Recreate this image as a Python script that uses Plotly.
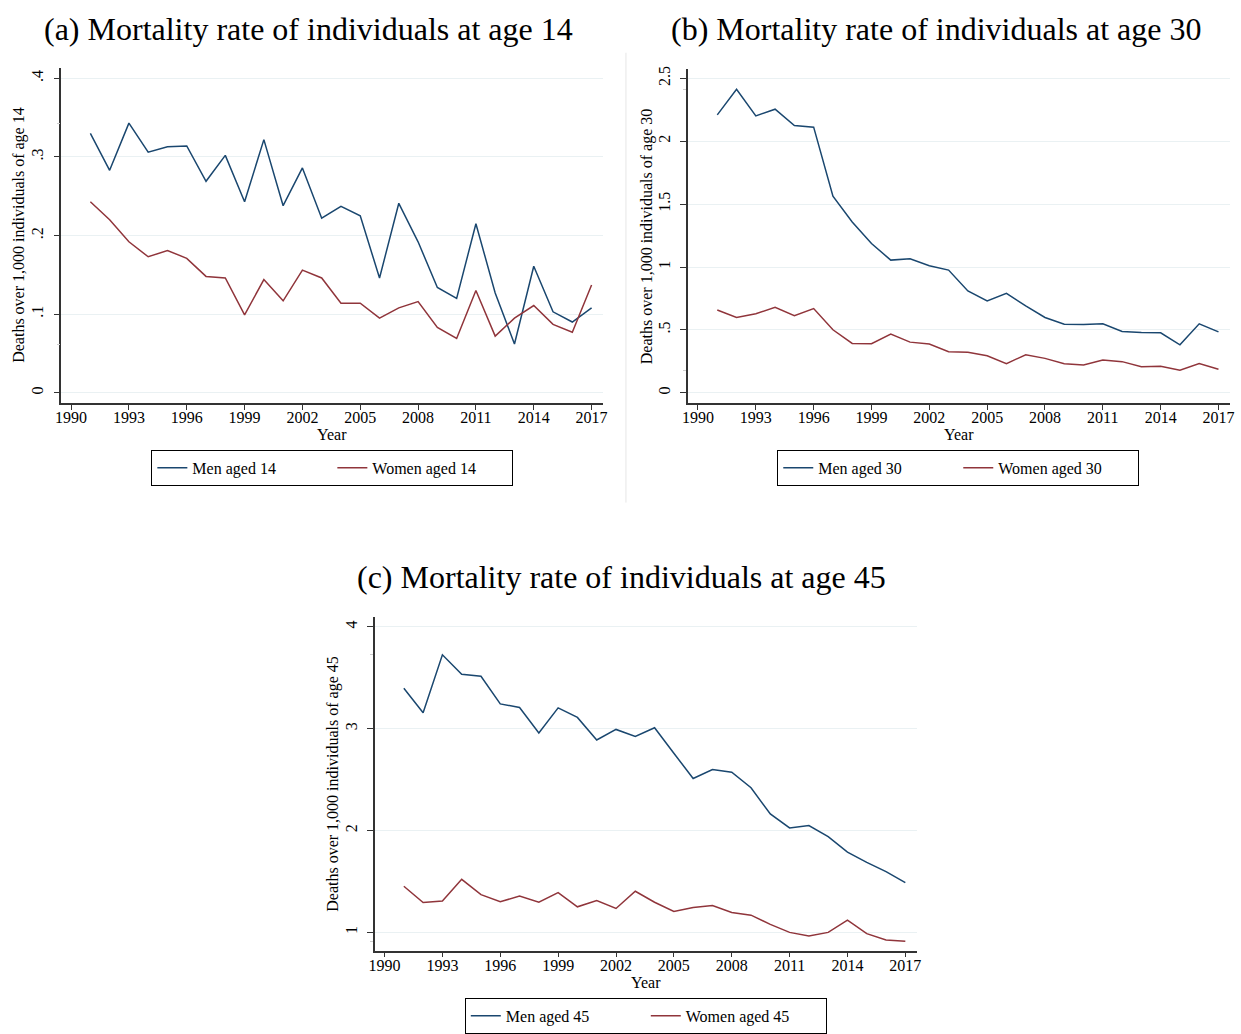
import plotly.graph_objects as go

years = list(range(1991, 2018))

men_14 = [0.330, 0.283, 0.343, 0.306, 0.313, 0.314, 0.269, 0.302, 0.243, 0.322,
          0.238, 0.286, 0.222, 0.237, 0.225, 0.146, 0.241, 0.192, 0.134, 0.120,
          0.215, 0.127, 0.062, 0.161, 0.103, 0.090, 0.108]
women_14 = [0.243, 0.220, 0.192, 0.173, 0.181, 0.171, 0.148, 0.146, 0.099, 0.144,
            0.117, 0.156, 0.146, 0.114, 0.114, 0.095, 0.108, 0.116, 0.083, 0.069,
            0.130, 0.072, 0.095, 0.111, 0.087, 0.077, 0.137]

men_30 = [2.210, 2.413, 2.202, 2.255, 2.125, 2.112, 1.564, 1.358, 1.187, 1.055,
          1.065, 1.010, 0.976, 0.810, 0.730, 0.791, 0.691, 0.599, 0.546, 0.543,
          0.549, 0.488, 0.480, 0.477, 0.382, 0.549, 0.485]
women_30 = [0.659, 0.599, 0.628, 0.680, 0.614, 0.670, 0.501, 0.393, 0.390, 0.467,
            0.403, 0.388, 0.327, 0.322, 0.295, 0.232, 0.303, 0.274, 0.232, 0.222,
            0.261, 0.248, 0.208, 0.211, 0.179, 0.232, 0.187]

men_45 = [3.397, 3.156, 3.726, 3.534, 3.515, 3.244, 3.208, 2.958, 3.205, 3.111,
          2.889, 2.993, 2.925, 3.010, 2.759, 2.511, 2.599, 2.573, 2.420, 2.163,
          2.026, 2.049, 1.941, 1.788, 1.687, 1.596, 1.489]
women_45 = [1.453, 1.293, 1.309, 1.521, 1.371, 1.300, 1.358, 1.296, 1.391, 1.251,
            1.313, 1.235, 1.404, 1.296, 1.205, 1.244, 1.264, 1.195, 1.169, 1.078,
            1.000, 0.964, 1.000, 1.121, 0.987, 0.925, 0.912]

x_ticks = list(range(1990, 2018, 3))
y14_ticks = [0, 0.1, 0.2, 0.3, 0.4]
y14_text = ["0", ".1", ".2", ".3", ".4"]
y30_ticks = [0, 0.5, 1, 1.5, 2, 2.5]
y30_text = ["0", ".5", "1", "1.5", "2", "2.5"]
y45_ticks = [1, 2, 3, 4]
y45_text = ["1", "2", "3", "4"]

panel_titles = ["(a) Mortality rate of individuals at age 14",
                "(b) Mortality rate of individuals at age 30",
                "(c) Mortality rate of individuals at age 45"]
y_titles = ["Deaths over 1,000 individuals of age 14",
            "Deaths over 1,000 individuals of age 30",
            "Deaths over 1,000 individuals of age 45"]

MEN = "#1a476f"
WOMEN = "#90353b"
FONT = "Liberation Serif"
GRID = "#eaf1f3"
W, H = 1241, 1034

fig = go.Figure()

panels = [
    dict(men=men_14, women=women_14, age=14, ax="", leg="legend",
         xd=[55.7, 602], yd=[65, 401.7], yr=[-0.0127, 0.4135],
         yt=y14_ticks, ytt=y14_text, lx=329),
    dict(men=men_30, women=women_30, age=30, ax="2", leg="legend2",
         xd=[687.7, 1234], yd=[66, 401.7], yr=[-0.079, 2.577],
         yt=y30_ticks, ytt=y30_text, lx=960),
    dict(men=men_45, women=women_45, age=45, ax="3", leg="legend3",
         xd=[371.7, 918.3], yd=[616.7, 952.3], yr=[0.82, 4.10],
         yt=y45_ticks, ytt=y45_text, lx=645),
]

layout = dict(width=W, height=H, margin=dict(l=0, r=0, t=0, b=0),
              paper_bgcolor="white", plot_bgcolor="white",
              font=dict(family=FONT, size=16, color="black"),
              annotations=[], shapes=[])

for i, p in enumerate(panels):
    fig.add_trace(go.Scatter(x=years, y=p["men"], mode="lines",
                             name=f"Men aged {p['age']}",
                             line=dict(color=MEN, width=1.5),
                             xaxis="x" + p["ax"], yaxis="y" + p["ax"],
                             legend=p["leg"]))
    fig.add_trace(go.Scatter(x=years, y=p["women"], mode="lines",
                             name=f"Women aged {p['age']}",
                             line=dict(color=WOMEN, width=1.5),
                             xaxis="x" + p["ax"], yaxis="y" + p["ax"],
                             legend=p["leg"]))
    xd = [p["xd"][0] / W, p["xd"][1] / W]
    yd = [1 - p["yd"][1] / H, 1 - p["yd"][0] / H]
    allv = p["men"] + p["women"]
    layout["xaxis" + p["ax"]] = dict(
        domain=xd, range=[1989.49, 2017.6], anchor="y" + p["ax"],
        tickmode="array", tickvals=x_ticks, ticks="outside", ticklen=5,
        tickcolor="#333", showline=True, linecolor="#333", linewidth=1.5,
        showgrid=False, zeroline=False, tickfont=dict(size=16),
        ticklabelstandoff=-6)
    layout["yaxis" + p["ax"]] = dict(
        domain=yd, range=p["yr"], anchor="x" + p["ax"],
        tickmode="array", tickvals=p["yt"], ticktext=p["ytt"],
        ticks="outside", ticklen=6, tickcolor="#333", tickangle=-90,
        showline=True, linecolor="#333", linewidth=1.5,
        showgrid=True, gridcolor=GRID, gridwidth=1.2, zeroline=False,
        tickfont=dict(size=16), ticklabelstandoff=4,
        minor=dict(tickmode="array", tickvals=[min(allv), max(allv)],
                   ticks="outside", ticklen=3, tickcolor="#cccccc",
                   showgrid=False))
    xc = (p["xd"][0] + p["xd"][1]) / 2
    layout[p["leg"]] = dict(
        orientation="h", x=p["lx"] / W, y=1 - (p["yd"][1] + 65.5) / H,
        xanchor="center", yanchor="middle", bordercolor="black",
        borderwidth=1, font=dict(size=16), entrywidth=135,
        bgcolor="white")
    # x title
    layout["annotations"].append(dict(
        text="Year", x=xc / W, y=1 - (p["yd"][1] + 31.5) / H,
        xref="paper", yref="paper", showarrow=False,
        xanchor="center", yanchor="middle", font=dict(size=16)))
    # y title
    layout["annotations"].append(dict(
        text=y_titles[i], x=(p["xd"][0] - 42) / W,
        y=1 - (p["yd"][0] + p["yd"][1]) / 2 / H,
        xref="paper", yref="paper", showarrow=False, textangle=-90,
        xanchor="center", yanchor="middle", font=dict(size=16)))

title_pos = [(305, 26), (938, 26), (621, 577)]
for t, (tx, ty) in zip(panel_titles, title_pos):
    layout["annotations"].append(dict(
        text=t, x=tx / W, y=1 - ty / H, xref="paper", yref="paper",
        showarrow=False, xanchor="center", yanchor="middle",
        font=dict(size=32)))

layout["shapes"].append(dict(type="line", xref="paper", yref="paper",
                             x0=625 / W, x1=625 / W, y0=1 - 502 / H, y1=1 - 50 / H,
                             line=dict(color="#e6e6e6", width=1)))

fig.update_layout(**layout)
fig.write_html("out.html")
